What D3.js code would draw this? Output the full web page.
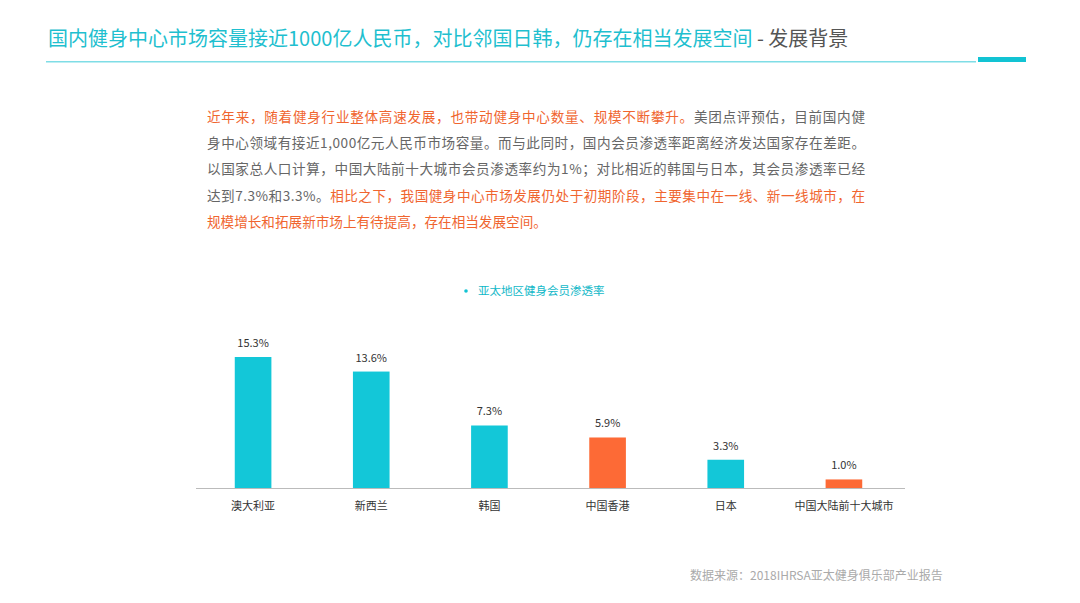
<!DOCTYPE html>
<html><head><meta charset="utf-8">
<script src="https://cdn.jsdelivr.net/npm/d3@7"></script>
<style>body{margin:0;background:#fff;font-family:"Noto Sans CJK SC","Noto Sans",sans-serif;}</style>
</head><body>
<script>
const categories = ["澳大利亚", "新西兰", "韩国", "中国香港", "日本", "中国大陆前十大城市"];
const values = [15.3, 13.6, 7.3, 5.9, 3.3, 1.0];
const highlight = ["中国香港", "中国大陆前十大城市"];
const seriesName = "亚太地区健身会员渗透率";

let w = 1080, h = 603;
let svg = d3.select("body").append("svg").attr("width", w).attr("height", h);

// title
let title = svg.append("text").attr("x", 48).attr("y", 46)
    .attr("font-size", 20).attr("fill", "#1fbfcf");
title.append("tspan").text("国内健身中心市场容量接近1000亿人民币，对比邻国日韩，仍存在相当发展空间");
title.append("tspan").attr("fill", "#555").text(" - 发展背景");
svg.append("rect").attr("x", 46).attr("y", 61).attr("width", 930).attr("height", 1.5).attr("fill", "#7fdde6");
svg.append("rect").attr("x", 978).attr("y", 57).attr("width", 48).attr("height", 5).attr("fill", "#12c3d3");

// paragraph
const orange = "#f0652f", grey = "#666";
const lines = [
    [["近年来，随着健身行业整体高速发展，也带动健身中心数量、规模不断攀升。", orange], ["美团点评预估，目前国内健", grey]],
    [["身中心领域有接近1,000亿元人民币市场容量。而与此同时，国内会员渗透率距离经济发达国家存在差距。", grey]],
    [["以国家总人口计算，中国大陆前十大城市会员渗透率约为1%；对比相近的韩国与日本，其会员渗透率已经", grey]],
    [["达到7.3%和3.3%。", grey], ["相比之下，我国健身中心市场发展仍处于初期阶段，主要集中在一线、新一线城市，在", orange]],
    [["规模增长和拓展新市场上有待提高，存在相当发展空间。", orange]]
];
lines.forEach(function (ln, i) {
    let t = svg.append("text").attr("x", 207).attr("y", 122 + i * 26.2)
        .attr("font-size", 13.6).attr("textLength", i == 4 ? null : 658);
    ln.forEach(function (s) { t.append("tspan").attr("fill", s[1]).text(s[0]); });
});
svg.select("text:last-of-type").attr("textLength", null);

// legend
svg.append("circle").attr("cx", 466).attr("cy", 291).attr("r", 1.8).attr("fill", "#12c3d3");
svg.append("text").attr("x", 478).attr("y", 295).attr("font-size", 11.5).attr("fill", "#12b8c8").text(seriesName);

// chart
let x = d3.scaleBand().domain(categories).range([194, 903]).paddingInner(0.69).paddingOuter(0.345);
let y = d3.scaleLinear().domain([0, 15.3]).range([488, 357]);

svg.selectAll(".bar").data(values).enter().append("rect")
    .attr("x", function (d, i) { return x(categories[i]); })
    .attr("y", function (d) { return y(d); })
    .attr("width", x.bandwidth())
    .attr("height", function (d) { return y(0) - y(d); })
    .attr("fill", function (d, i) { return highlight.includes(categories[i]) ? "#fd6a36" : "#13c7d8"; });

svg.selectAll(".lbl").data(values).enter().append("text")
    .attr("x", function (d, i) { return x(categories[i]) + x.bandwidth() / 2; })
    .attr("y", function (d) { return y(d) - 10; })
    .attr("text-anchor", "middle").attr("font-size", 11).attr("fill", "#333")
    .text(function (d) { return d.toFixed(1) + "%"; });

let ax = svg.append("g").attr("transform", "translate(0,488)")
    .call(d3.axisBottom(x).tickSize(0).tickPadding(14));
ax.select(".domain").attr("stroke", "#bbb").attr("d", "M196,0.5H905");
ax.selectAll("text").attr("font-size", 11).attr("fill", "#333")
    .attr("font-family", "'Noto Sans CJK SC',sans-serif");

// source
svg.append("text").attr("x", 690).attr("y", 580).attr("font-size", 12).attr("fill", "#aaa")
    .text("数据来源：2018IHRSA亚太健身俱乐部产业报告");
</script>
</body></html>
